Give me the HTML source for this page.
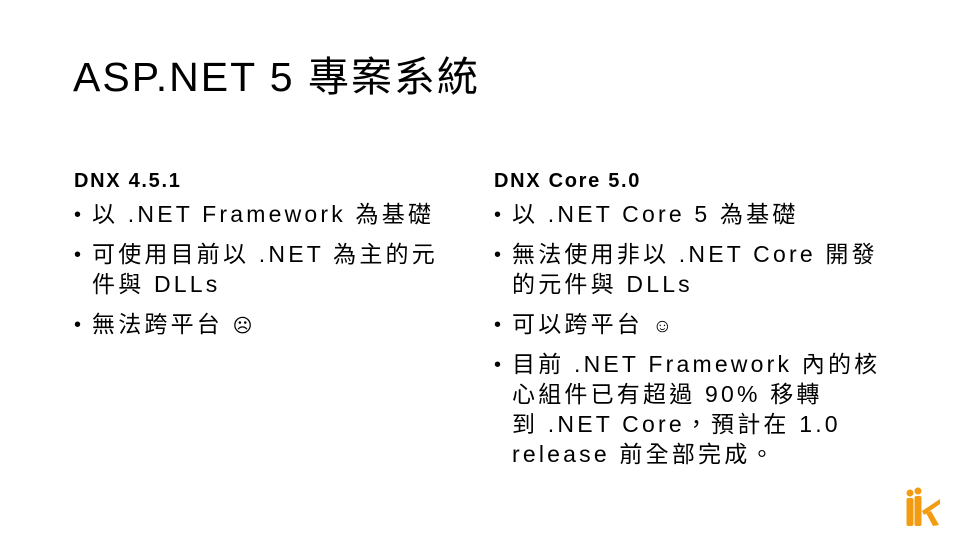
<!DOCTYPE html>
<html><head><meta charset="utf-8"><style>
body{margin:0;width:960px;height:540px;background:#fff;position:relative;overflow:hidden;font-family:"Liberation Sans","Noto Sans CJK TC",sans-serif;color:#000}
.t{position:absolute;white-space:nowrap;line-height:1}
.title{left:73px;top:57px;font-size:41px;letter-spacing:2px}
.h{font-size:20px;font-weight:bold;letter-spacing:1.7px}
.b{font-size:23px;letter-spacing:3.2px}
.dot{position:absolute;font-size:20px;line-height:1}
.s{font-size:19px;letter-spacing:0}
</style></head><body>
<div class="t title">ASP.NET 5 專案系統</div>
<div class="t h" style="left:74px;top:171px">DNX 4.5.1</div>
<div class="t h" style="left:494px;top:171px">DNX Core 5.0</div>

<div class="dot" style="left:74px;top:205px">•</div>
<div class="t b" style="left:92px;top:203px">以 .NET Framework 為基礎</div>
<div class="dot" style="left:74px;top:245px">•</div>
<div class="t b" style="left:92px;top:243px">可使用目前以 .NET 為主的元</div>
<div class="t b" style="left:92px;top:273px">件與 DLLs</div>
<div class="dot" style="left:74px;top:315px">•</div>
<div class="t b" style="left:92px;top:313px">無法跨平台 <span class="s">☹</span></div>

<div class="dot" style="left:494px;top:205px">•</div>
<div class="t b" style="left:512px;top:203px">以 .NET Core 5 為基礎</div>
<div class="dot" style="left:494px;top:245px">•</div>
<div class="t b" style="left:512px;top:243px">無法使用非以 .NET Core 開發</div>
<div class="t b" style="left:512px;top:273px">的元件與 DLLs</div>
<div class="dot" style="left:494px;top:315px">•</div>
<div class="t b" style="left:512px;top:313px">可以跨平台 <span class="s">☺</span></div>
<div class="dot" style="left:494px;top:355px">•</div>
<div class="t b" style="left:512px;top:353px">目前 .NET Framework 內的核</div>
<div class="t b" style="left:512px;top:383px">心組件已有超過 90% 移轉</div>
<div class="t b" style="left:512px;top:413px">到 .NET Core，預計在 1.0</div>
<div class="t b" style="left:512px;top:443px">release 前全部完成。</div>

<svg style="position:absolute;left:900px;top:485px" width="45" height="45" viewBox="0 0 45 45">
<g fill="#f39c12">
<circle cx="10" cy="8" r="3.5"/><circle cx="18" cy="6" r="3.5"/>
<rect x="6.5" y="13" width="7" height="28" rx="2"/>
<rect x="14.5" y="11" width="7" height="30" rx="2"/>
<polygon points="22,26 40,14 40,19 24,30"/>
<polygon points="26,28 31,26 39,40 33,41"/>
</g></svg>
</body></html>
